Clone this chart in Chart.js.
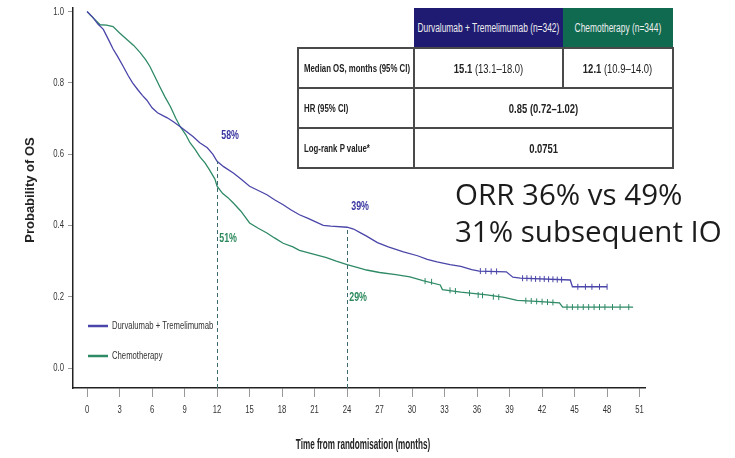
<!DOCTYPE html>
<html>
<head>
<meta charset="utf-8">
<script src="https://cdn.jsdelivr.net/npm/chart.js@4.4.1/dist/chart.umd.min.js"></script>
<style>
  html, body { margin: 0; padding: 0; background: #fff; }
  #wrap { position: relative; width: 735px; height: 458px; overflow: hidden; }
  #os { position: absolute; left: 0; top: 0; }
  #stats {
    position: absolute; left: 297px; top: 8px; width: 375px;
    border-collapse: collapse; table-layout: fixed;
    font-family: "Liberation Sans", Arial, sans-serif; font-size: 13.5px; color: #222;
  }
  #stats tr { height: 40px; }
  #stats td { padding: 0; border: 2px solid #4a4a4a; overflow: visible; }
  #stats tr.head td { border: none; color: #eee; font-size: 12px; }
  #stats td.hd1 { background: #1f1b72; }
  #stats td.hd2 { background: #0f6a50; }
  .cell { display: flex; justify-content: center; white-space: nowrap; }
  .cell.left { justify-content: flex-start; padding-left: 5px; }
  .cell span { display: inline-block; transform: scaleX(0.7); transform-origin: center; }
  .cell.left span { transform-origin: left center; font-weight: bold; font-size: 11.5px; transform: scaleX(0.68); }
  .note {
    position: absolute; left: 455px; font-family: "Open Sans", "Noto Sans", sans-serif;
    font-size: 29.5px; color: #1c1c1c; line-height: 1; white-space: nowrap;
  }
</style>
</head>
<body>
<div id="wrap">
  <canvas id="os" width="735" height="458"></canvas>

  <table id="stats">
    <colgroup><col style="width:116px"><col style="width:149px"><col style="width:110px"></colgroup>
    <tr class="head">
      <td></td>
      <td class="hd1"><div class="cell"><span>Durvalumab + Tremelimumab (n=342)</span></div></td>
      <td class="hd2"><div class="cell"><span>Chemotherapy (n=344)</span></div></td>
    </tr>
    <tr>
      <td><div class="cell left"><span>Median OS, months (95% CI)</span></div></td>
      <td><div class="cell"><span><b>15.1</b> (13.1–18.0)</span></div></td>
      <td><div class="cell"><span><b>12.1</b> (10.9–14.0)</span></div></td>
    </tr>
    <tr>
      <td><div class="cell left"><span>HR (95% CI)</span></div></td>
      <td colspan="2"><div class="cell"><span><b>0.85 (0.72–1.02)</b></span></div></td>
    </tr>
    <tr>
      <td><div class="cell left"><span>Log-rank P value*</span></div></td>
      <td colspan="2"><div class="cell"><span><b>0.0751</b></span></div></td>
    </tr>
  </table>

  <div class="note" style="top:179px">ORR 36% vs 49%</div>
  <div class="note" style="top:216px">31% subsequent IO</div>
</div>

<script>
// Kaplan-Meier OS curves (months, survival probability)
const durvaMonths = [0, 0.5, 1.0, 1.5, 2.0, 2.4, 2.8, 3.3, 3.8, 4.2, 4.7, 5.1, 5.5, 6.0, 6.5, 7.0, 7.4, 8.0, 8.6, 9.2,
  9.8, 10.4, 11.1, 11.6, 12.0, 12.6, 13.5, 14.2, 15.0, 15.8, 16.6, 17.3, 18.1, 18.8, 19.6, 20.4, 21.1, 21.8, 22.5,
  24.0, 24.6, 25.2, 25.8, 26.8, 27.8, 29.2, 30.5, 31.4, 32.3, 33.5, 34.5, 35.5, 36.2, 38.7, 39.3, 40.0, 44.6, 44.8, 48.0];
const durvaSurv = [1.0, 0.985, 0.965, 0.95, 0.92, 0.895, 0.875, 0.848, 0.82, 0.80, 0.78, 0.765, 0.752, 0.73, 0.716, 0.708,
  0.702, 0.69, 0.677, 0.663, 0.649, 0.632, 0.618, 0.60, 0.58, 0.565, 0.547, 0.53, 0.51, 0.498, 0.486, 0.472, 0.458,
  0.444, 0.43, 0.42, 0.41, 0.40, 0.398, 0.395, 0.39, 0.38, 0.37, 0.352, 0.34, 0.326, 0.315, 0.305, 0.298, 0.29,
  0.285, 0.276, 0.272, 0.27, 0.255, 0.252, 0.247, 0.228, 0.228];

const chemoMonths = [0, 0.3, 0.8, 1.2, 1.8, 2.4, 3.0, 3.7, 4.3, 4.9, 5.4, 5.8, 6.3, 6.7, 7.2, 7.7, 8.2, 8.6, 9.1, 9.5,
  10.0, 10.4, 10.9, 11.3, 11.8, 12.0, 12.5, 13.0, 13.5, 14.2, 15.0, 15.8, 16.6, 17.3, 18.1, 19.0, 19.6, 20.8, 22.1,
  23.0, 24.0, 25.0, 25.8, 27.0, 28.5, 29.8, 31.0, 32.6, 32.8, 34.5, 36.9, 38.5, 39.7, 41.5, 43.6, 43.9, 50.4];
const chemoSurv = [1.0, 0.99, 0.975, 0.963, 0.962, 0.958, 0.94, 0.921, 0.905, 0.885, 0.865, 0.846, 0.815, 0.79, 0.76,
  0.733, 0.70, 0.677, 0.655, 0.632, 0.612, 0.593, 0.575, 0.556, 0.53, 0.51, 0.49, 0.478, 0.463, 0.44, 0.407, 0.392,
  0.379, 0.365, 0.35, 0.34, 0.33, 0.32, 0.31, 0.30, 0.29, 0.282, 0.275, 0.268, 0.262, 0.256, 0.245, 0.233, 0.22,
  0.213, 0.205, 0.198, 0.19, 0.187, 0.183, 0.171, 0.171];

// censoring ticks
const durvaCensorMonths = [36.3, 36.8, 37.3, 37.8, 40.2, 40.6, 41.0, 41.4, 41.8, 42.2, 42.6, 43.0, 43.4, 43.8, 45.3, 46.0, 46.6, 47.3, 48.0];
const durvaCensorSurv = [0.272, 0.272, 0.271, 0.271, 0.252, 0.252, 0.251, 0.25, 0.25, 0.25, 0.249, 0.249, 0.248, 0.248, 0.228, 0.228, 0.228, 0.228, 0.228];
const chemoCensorMonths = [31.2, 31.8, 33.5, 34.0, 35.3, 36.1, 36.5, 37.5, 38.0, 40.5, 41.0, 41.5, 42.0, 42.5, 43.0, 44.3, 44.8, 45.3, 45.8, 46.3, 46.8, 47.3, 47.8, 48.5, 49.2, 50.0];
const chemoCensorSurv = [0.244, 0.242, 0.218, 0.216, 0.21, 0.205, 0.204, 0.2, 0.199, 0.189, 0.188, 0.187, 0.186, 0.185, 0.184, 0.171, 0.171, 0.171, 0.171, 0.171, 0.171, 0.171, 0.171, 0.171, 0.171, 0.171];

// landmark survival at 12 and 24 months
const landmarks = [
  { month: 12, value: 0.58, label: '58%', arm: 0, dx: 13, dy: -26 },
  { month: 12, value: 0.51, label: '51%', arm: 1, dx: 11, dy: 52 },
  { month: 24, value: 0.39, label: '39%', arm: 0, dx: 13, dy: -23 },
  { month: 24, value: 0.29, label: '29%', arm: 1, dx: 11, dy: 33 }
];

const xTicks = [0, 3, 6, 9, 12, 15, 18, 21, 24, 27, 30, 33, 36, 39, 42, 45, 48, 51];
const yTicks = [0, 0.2, 0.4, 0.6, 0.8, 1.0];
const armNames = ['Durvalumab + Tremelimumab', 'Chemotherapy'];
const armColors = ['#4a45a8', '#2f8a66'];
const labelColors = ['#3a36a0', '#2c8a5c'];

const SANS = '"Liberation Sans", Arial, sans-serif';

const toXY = (xs, ys) => xs.map((x, i) => ({ x: x, y: ys[i] }));

// horizontally squeezed text (the slide uses a narrow typeface)
function narrowText(ctx, text, x, y, sx, align) {
  ctx.save();
  ctx.translate(x, y);
  ctx.scale(sx, 1);
  ctx.textAlign = align;
  ctx.fillText(text, 0, 0);
  ctx.restore();
}

// dashed landmark lines, tick labels, percentage labels, legend and axis titles
const overlay = {
  id: 'overlay',
  afterDatasetsDraw(chart) {
    const { ctx, chartArea, scales: { x, y } } = chart;
    ctx.save();
    ctx.strokeStyle = '#3d6a70';
    ctx.lineWidth = 1;
    ctx.setLineDash([4, 3]);
    [12, 24].forEach(m => {
      const top = Math.max(...landmarks.filter(l => l.month === m).map(l => l.value));
      const px = Math.round(x.getPixelForValue(m)) + 0.5;
      ctx.beginPath();
      ctx.moveTo(px, chartArea.bottom);
      ctx.lineTo(px, y.getPixelForValue(top));
      ctx.stroke();
    });
    ctx.setLineDash([]);

    ctx.textBaseline = 'middle';

    // tick labels
    ctx.fillStyle = '#333';
    ctx.font = '11px ' + SANS;
    xTicks.forEach(v => narrowText(ctx, String(v), x.getPixelForValue(v), 410, 0.7, 'center'));
    yTicks.forEach(v => narrowText(ctx, v.toFixed(1), 64, y.getPixelForValue(v), 0.7, 'right'));

    ctx.font = 'bold 13px ' + SANS;
    landmarks.forEach(l => {
      ctx.fillStyle = labelColors[l.arm];
      narrowText(ctx, l.label, x.getPixelForValue(l.month) + l.dx, y.getPixelForValue(l.value) + l.dy, 0.68, 'center');
    });

    // legend
    ctx.font = '11px ' + SANS;
    armNames.forEach((name, i) => {
      const ly = 326 + i * 30;
      ctx.strokeStyle = armColors[i];
      ctx.lineWidth = 2.5;
      ctx.beginPath();
      ctx.moveTo(88, ly);
      ctx.lineTo(108, ly);
      ctx.stroke();
      ctx.fillStyle = '#333';
      narrowText(ctx, name, 112, ly, 0.7, 'left');
    });

    // axis titles
    ctx.fillStyle = '#222';
    ctx.font = 'bold 13px ' + SANS;
    ctx.textAlign = 'center';
    ctx.save();
    ctx.translate(30, 190);
    ctx.rotate(-Math.PI / 2);
    ctx.fillText('Probability of OS', 0, 0);
    ctx.restore();
    ctx.font = 'bold 14px ' + SANS;
    narrowText(ctx, 'Time from randomisation (months)', 363, 445, 0.58, 'center');
    ctx.restore();
  }
};

new Chart(document.getElementById('os'), {
  type: 'line',
  data: {
    datasets: [
      { label: armNames[0], data: toXY(durvaMonths, durvaSurv), borderColor: armColors[0], borderWidth: 1.3,
        pointRadius: 0, fill: false, tension: 0 },
      { label: armNames[1], data: toXY(chemoMonths, chemoSurv), borderColor: armColors[1], borderWidth: 1.3,
        pointRadius: 0, fill: false, tension: 0 },
      { label: 'censor1', data: toXY(durvaCensorMonths, durvaCensorSurv), showLine: false, pointStyle: 'line',
        rotation: 90, pointRadius: 3, borderColor: armColors[0], borderWidth: 1 },
      { label: 'censor2', data: toXY(chemoCensorMonths, chemoCensorSurv), showLine: false, pointStyle: 'line',
        rotation: 90, pointRadius: 3, borderColor: armColors[1], borderWidth: 1 }
    ]
  },
  options: {
    responsive: false,
    animation: false,
    events: [],
    layout: { padding: { top: 8, right: 90, left: 0, bottom: 0 } },
    plugins: { legend: { display: false }, tooltip: { enabled: false } },
    scales: {
      x: {
        type: 'linear', min: -1.3, max: 51.5,
        afterBuildTicks: s => { s.ticks = xTicks.map(v => ({ value: v })); },
        afterFit: s => { s.height = 70; },
        border: { display: true, color: '#222', width: 1.5 },
        grid: { drawOnChartArea: false, drawTicks: true, tickLength: 9, color: '#999' },
        ticks: { display: false }
      },
      y: {
        type: 'linear', min: -0.056, max: 1.01,
        afterBuildTicks: s => { s.ticks = yTicks.map(v => ({ value: v })); },
        afterFit: s => { s.width = 73; },
        border: { display: true, color: '#222', width: 1.5 },
        grid: { drawOnChartArea: false, drawTicks: true, tickLength: 5, color: '#999' },
        ticks: { display: false }
      }
    }
  },
  plugins: [overlay]
});
</script>
</body>
</html>
